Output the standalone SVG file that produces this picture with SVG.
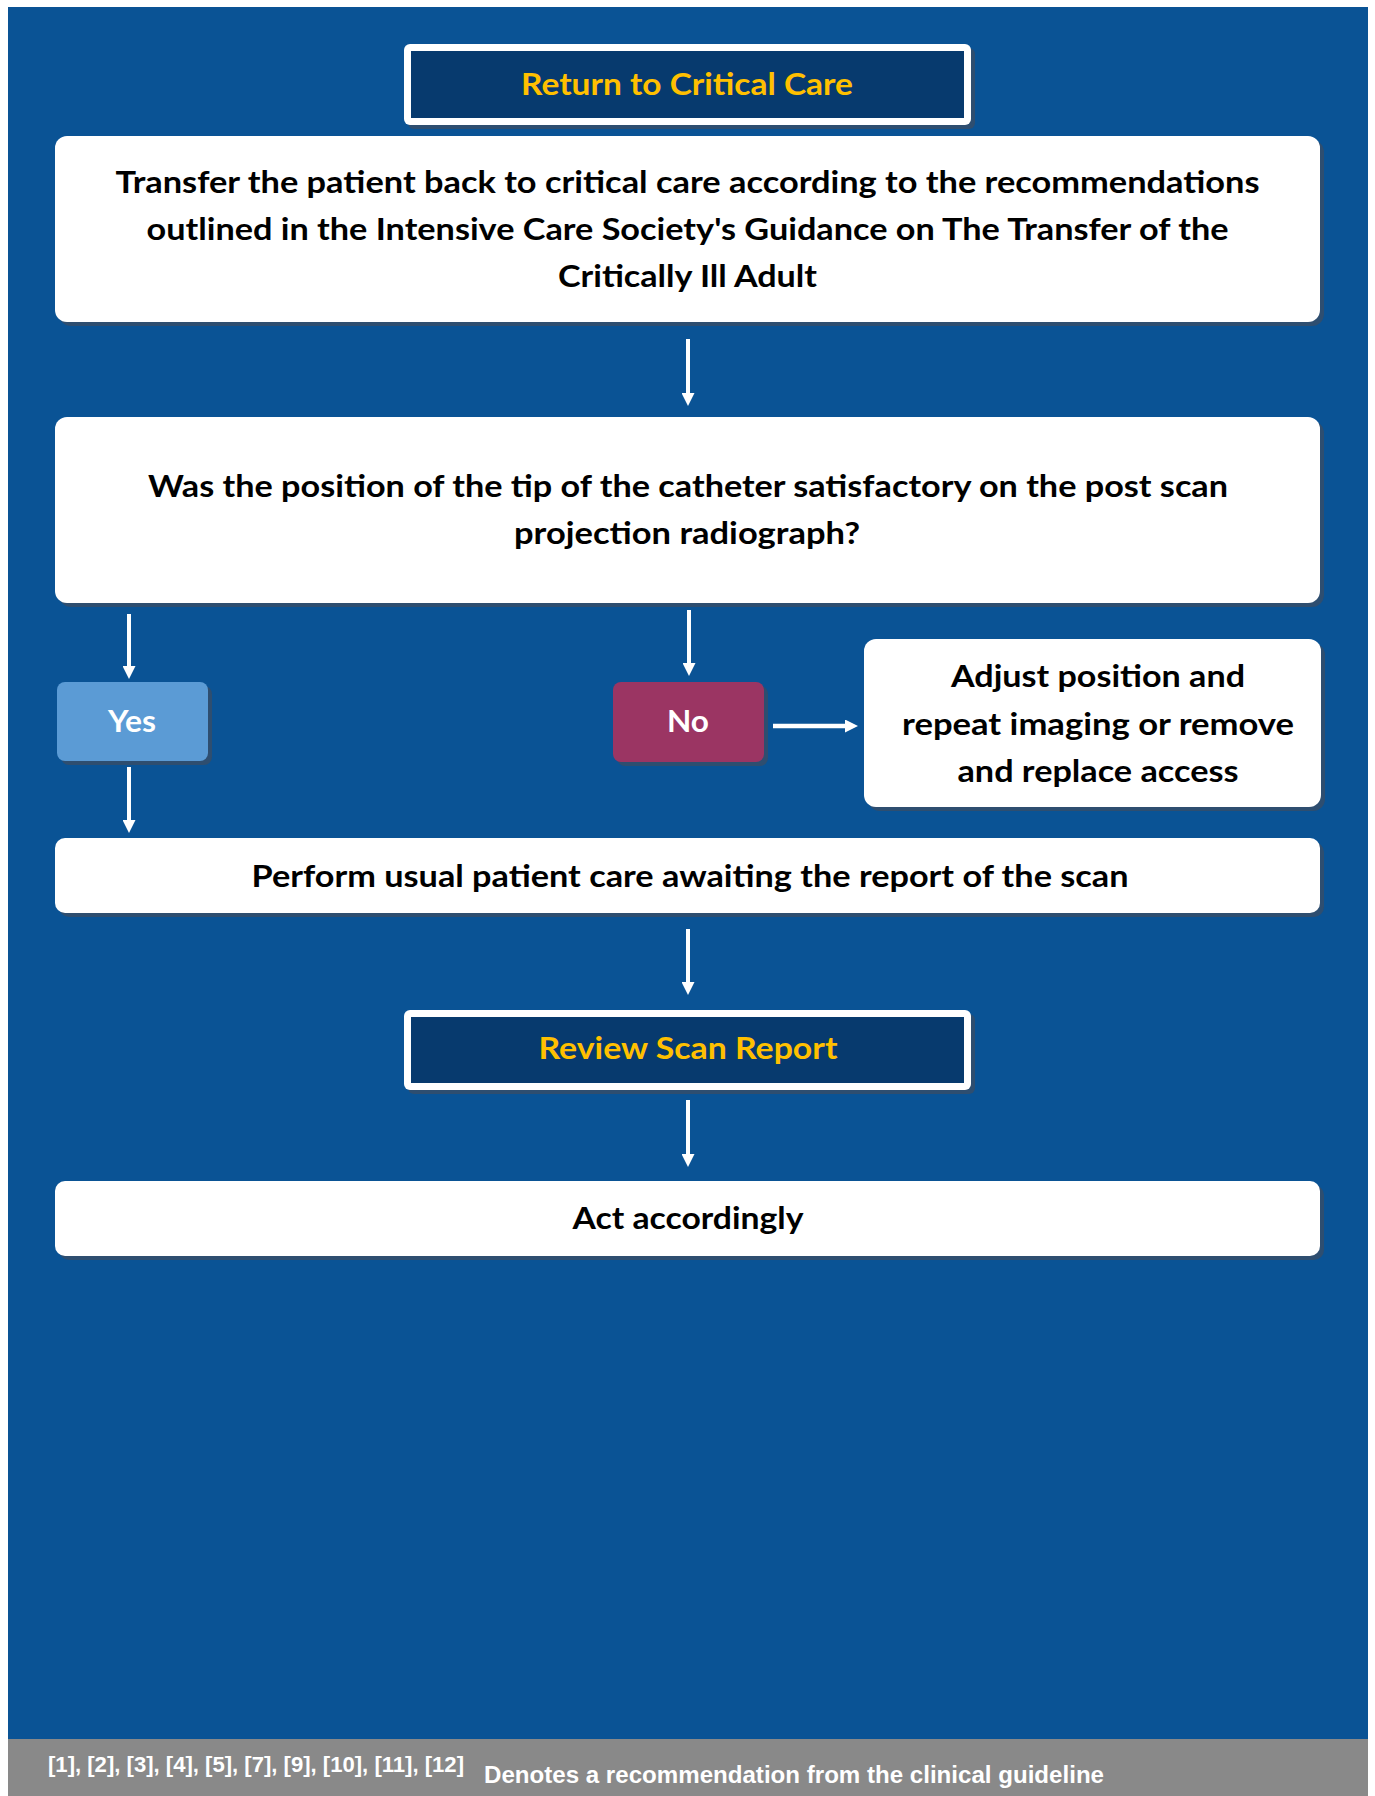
<svg xmlns="http://www.w3.org/2000/svg" width="1375" height="1796" viewBox="0 0 1375 1796">
  <defs>
    <marker id="head" viewBox="0 0 13 13" markerUnits="userSpaceOnUse" markerWidth="13" markerHeight="13" refX="2" refY="6.5" orient="auto">
      <path d="M0,0 L13,6.5 L0,13 z" fill="#ffffff"/>
    </marker>
  </defs>
  <style>
    .shadow { fill: #2e4e70; }
    .box { fill: #ffffff; }
    .title-outer { fill: #ffffff; }
    .title-inner { fill: #073a6e; }
    .yes { fill: #5b9bd5; }
    .no { fill: #9b3563; }
    .t { font-family: Lato, "Open Sans", sans-serif; font-weight: 700; font-size: 31px; fill: #000000; text-anchor: middle; }
    .title { fill: #ffc000; font-size: 31px; }
    .w { fill: #ffffff; }
    .foot { font-family: "Liberation Sans", Arial, sans-serif; font-weight: 700; fill: #ffffff; }
    .conn line { stroke: #ffffff; stroke-width: 4; marker-end: url(#head); }
  </style>

  <!-- page background and footer band -->
  <rect x="0" y="0" width="1375" height="1796" fill="#ffffff"/>
  <rect x="8" y="7" width="1360" height="1732" fill="#0a5395"/>
  <rect x="8" y="1739" width="1360" height="57" fill="#898989"/>

  <!-- section header: Return to Critical Care -->
  <g id="hdr-return">
    <rect class="shadow" x="408" y="48" width="567" height="81" rx="6"/>
    <rect class="title-outer" x="404" y="44" width="567" height="81" rx="6"/>
    <rect class="title-inner" x="411" y="51" width="553" height="67"/>
    <text class="t title" x="687" y="95" textLength="332" lengthAdjust="spacingAndGlyphs">Return to Critical Care</text>
  </g>

  <!-- transfer step -->
  <g id="n-transfer">
    <rect class="shadow" x="59" y="140" width="1265" height="186" rx="12"/>
    <rect class="box" x="55" y="136" width="1265" height="186" rx="12"/>
    <text class="t" x="687.5" y="193" textLength="1144" lengthAdjust="spacingAndGlyphs">Transfer the patient back to critical care according to the recommendations</text>
    <text class="t" x="687.5" y="240" textLength="1082" lengthAdjust="spacingAndGlyphs">outlined in the Intensive Care Society's Guidance on The Transfer of the</text>
    <text class="t" x="687.5" y="287" textLength="259" lengthAdjust="spacingAndGlyphs">Critically Ill Adult</text>
  </g>

  <!-- decision -->
  <g id="n-question">
    <rect class="shadow" x="59" y="421" width="1265" height="186" rx="12"/>
    <rect class="box" x="55" y="417" width="1265" height="186" rx="12"/>
    <text class="t" x="688" y="497" textLength="1080" lengthAdjust="spacingAndGlyphs">Was the position of the tip of the catheter satisfactory on the post scan</text>
    <text class="t" x="687" y="544" textLength="346" lengthAdjust="spacingAndGlyphs">projection radiograph?</text>
  </g>

  <g id="n-yes">
    <rect class="shadow" x="61" y="686" width="151" height="79" rx="8"/>
    <rect class="yes" x="57" y="682" width="151" height="79" rx="8"/>
    <text class="t w" x="132" y="732" textLength="48" lengthAdjust="spacingAndGlyphs">Yes</text>
  </g>

  <g id="n-no">
    <rect class="shadow" x="617" y="686" width="151" height="80" rx="8"/>
    <rect class="no" x="613" y="682" width="151" height="80" rx="8"/>
    <text class="t w" x="688" y="732" textLength="42" lengthAdjust="spacingAndGlyphs">No</text>
  </g>

  <g id="n-adjust">
    <rect class="shadow" x="868" y="643" width="457" height="168" rx="12"/>
    <rect class="box" x="864" y="639" width="457" height="168" rx="12"/>
    <text class="t" x="1098" y="687" textLength="294" lengthAdjust="spacingAndGlyphs">Adjust position and</text>
    <text class="t" x="1098" y="735" textLength="392" lengthAdjust="spacingAndGlyphs">repeat imaging or remove</text>
    <text class="t" x="1098" y="782" textLength="281" lengthAdjust="spacingAndGlyphs">and replace access</text>
  </g>

  <g id="n-perform">
    <rect class="shadow" x="59" y="842" width="1265" height="75" rx="10"/>
    <rect class="box" x="55" y="838" width="1265" height="75" rx="10"/>
    <text class="t" x="690" y="887" textLength="877" lengthAdjust="spacingAndGlyphs">Perform usual patient care awaiting the report of the scan</text>
  </g>

  <!-- section header: Review Scan Report -->
  <g id="hdr-review">
    <rect class="shadow" x="408" y="1014" width="567" height="80" rx="6"/>
    <rect class="title-outer" x="404" y="1010" width="567" height="80" rx="6"/>
    <rect class="title-inner" x="411" y="1017" width="553" height="66"/>
    <text class="t title" x="688" y="1059" textLength="299" lengthAdjust="spacingAndGlyphs">Review Scan Report</text>
  </g>

  <g id="n-act">
    <rect class="shadow" x="59" y="1185" width="1265" height="75" rx="10"/>
    <rect class="box" x="55" y="1181" width="1265" height="75" rx="10"/>
    <text class="t" x="688" y="1229" textLength="231" lengthAdjust="spacingAndGlyphs">Act accordingly</text>
  </g>

  <!-- connectors -->
  <g id="connectors" class="conn">
    <line x1="688" y1="339" x2="688" y2="395"/>
    <line x1="129" y1="614" x2="129" y2="668"/>
    <line x1="689" y1="610" x2="689" y2="665"/>
    <line x1="773" y1="726" x2="847" y2="726" style="stroke-width:4.5"/>
    <line x1="129" y1="767" x2="129" y2="822"/>
    <line x1="688" y1="929" x2="688" y2="984"/>
    <line x1="688" y1="1100" x2="688" y2="1156"/>
  </g>

  <!-- footer legend -->
  <g id="legend">
    <text class="foot" x="48" y="1772" font-size="22" textLength="416" lengthAdjust="spacingAndGlyphs">[1], [2], [3], [4], [5], [7], [9], [10], [11], [12]</text>
    <text class="foot" x="484" y="1783" font-size="23" textLength="620" lengthAdjust="spacingAndGlyphs">Denotes a recommendation from the clinical guideline</text>
  </g>
</svg>
